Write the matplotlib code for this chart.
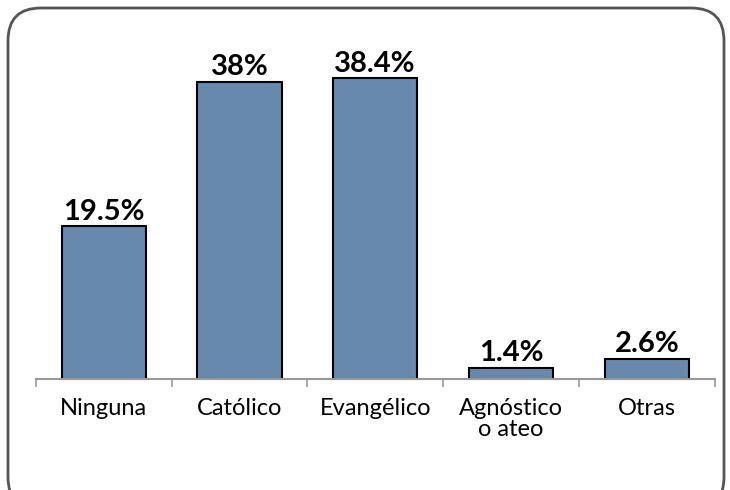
import matplotlib.pyplot as plt
import numpy as np
from matplotlib.patches import FancyBboxPatch

# Data
categories = ['Ninguna', 'Católico', 'Evangélico', 'Agnóstico\no ateo', 'Otras']
values = [19.5, 38.0, 38.4, 1.4, 2.6]
labels = ['19.5%', '38%', '38.4%', '1.4%', '2.6%']

plt.rcParams['font.family'] = ['Lato', 'DejaVu Sans']

fig = plt.figure(figsize=(7.3, 4.9), dpi=100)
ax = fig.add_axes([0.049, 0.2265, 0.93, 0.69])

x = np.arange(len(categories))
bars = ax.bar(x, values, width=0.62, color='#6689ad', edgecolor='black', linewidth=1.5, zorder=2)

for b, lab in zip(bars, labels):
    ax.text(b.get_x() + b.get_width() / 2, b.get_height() + 0.2, lab,
            ha='center', va='bottom', fontsize=21, fontweight='bold')

ax.set_xlim(-0.5, len(categories) - 0.5)
ax.set_ylim(0, 43.2)
ax.set_xticks(x)
ax.set_xticklabels(categories, fontsize=17, linespacing=1.0)
ax.tick_params(axis='x', which='major', length=0, pad=14)
ax.set_xticks(np.arange(-0.5, len(categories)), minor=True)
ax.tick_params(axis='x', which='minor', length=6, width=1.2, color='#999999')
ax.set_yticks([])
for s in ['top', 'right', 'left']:
    ax.spines[s].set_visible(False)
ax.spines['bottom'].set_color('#999999')
ax.spines['bottom'].set_linewidth(1.5)

# rounded border around the figure
border = FancyBboxPatch((8 / 730, -20 / 490), 716 / 730, 502 / 490,
                        boxstyle='round,pad=0,rounding_size=0.045',
                        transform=fig.transFigure, fill=False,
                        edgecolor='#555555', linewidth=2, mutation_aspect=730 / 490)
fig.patches.append(border)

fig.savefig('out.png', dpi=100)
